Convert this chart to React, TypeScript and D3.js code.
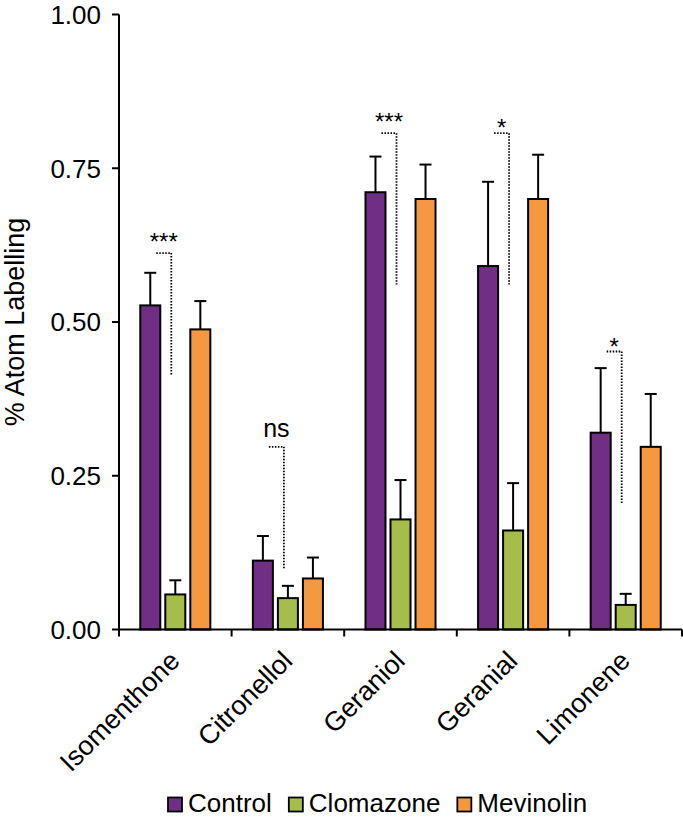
import React, { useEffect, useRef } from 'react';
import * as d3 from 'd3';

const categories = ['Isomenthone', 'Citronellol', 'Geraniol', 'Geranial', 'Limonene'];
const seriesNames = ['Control', 'Clomazone', 'Mevinolin'];
const seriesColors = ['#702F85', '#A6BC4B', '#F4993F'];

const controlMeans = [0.527, 0.112, 0.711, 0.591, 0.320];
const controlErr = [0.053, 0.040, 0.058, 0.137, 0.105];
const clomazoneMeans = [0.057, 0.051, 0.179, 0.161, 0.040];
const clomazoneErr = [0.023, 0.020, 0.064, 0.077, 0.018];
const mevinolinMeans = [0.488, 0.083, 0.700, 0.700, 0.297];
const mevinolinErr = [0.046, 0.034, 0.056, 0.072, 0.086];

// significance (Control vs Clomazone), bracket in y units
const sigLabels = ['***', 'ns', '***', '*', '*'];
const sigTop = [0.612, 0.297, 0.807, 0.807, 0.452];
const sigBottom = [0.414, 0.098, 0.561, 0.561, 0.205];

const yTicks = [0, 0.25, 0.5, 0.75, 1];

const FONT = '"Liberation Sans", Arial, Helvetica, sans-serif';

const App: React.FC = () => {
  const svgRef = useRef<SVGSVGElement>(null);

  useEffect(() => {
    document.body.style.margin = '0';
    if (!svgRef.current) return;

    const W = 683;
    const H = 821;
    const left = 119;
    const right = 682;
    const top = 14.5;
    const bottom = 629.5;

    const svg = d3.select(svgRef.current);
    svg.selectAll('*').remove();
    svg.attr('width', W).attr('height', H);

    const means = [controlMeans, clomazoneMeans, mevinolinMeans];
    const errs = [controlErr, clomazoneErr, mevinolinErr];

    const x = d3.scaleBand().domain(categories).range([left, right]).padding(0);
    const xs = d3.scaleBand()
      .domain(seriesNames)
      .range([0, x.bandwidth()])
      .paddingInner(0.2)
      .paddingOuter(0.85);
    const y = d3.scaleLinear().domain([0, 1]).range([bottom, top]);

    const g = svg.append('g');

    // bars
    seriesNames.forEach((s, si) => {
      const grp = g.append('g');
      grp.selectAll('rect')
        .data(categories)
        .enter()
        .append('rect')
        .attr('x', c => (x(c) || 0) + (xs(s) || 0))
        .attr('width', xs.bandwidth())
        .attr('y', (c, i) => y(means[si][i]))
        .attr('height', (c, i) => bottom - y(means[si][i]))
        .attr('fill', seriesColors[si])
        .attr('stroke', '#000')
        .attr('stroke-width', 2);

      // error bars (upper only)
      categories.forEach((c, i) => {
        const cx = (x(c) || 0) + (xs(s) || 0) + xs.bandwidth() / 2;
        const y0 = y(means[si][i]);
        const y1 = y(means[si][i] + errs[si][i]);
        grp.append('line')
          .attr('x1', cx).attr('x2', cx)
          .attr('y1', y0).attr('y2', y1)
          .attr('stroke', '#000').attr('stroke-width', 2);
        grp.append('line')
          .attr('x1', cx - 6).attr('x2', cx + 6)
          .attr('y1', y1).attr('y2', y1)
          .attr('stroke', '#000').attr('stroke-width', 2);
      });
    });

    // significance brackets
    categories.forEach((c, i) => {
      const vx = (x(c) || 0) + (xs(seriesNames[1]) || 0) + 6;
      const hx = vx - 15;
      const yt = y(sigTop[i]);
      const yb = y(sigBottom[i]);
      g.append('path')
        .attr('d', `M${hx},${yt}H${vx}V${yb}`)
        .attr('fill', 'none')
        .attr('stroke', '#000')
        .attr('stroke-width', 1.8)
        .attr('stroke-dasharray', '1.5,1.5');
      const lab = sigLabels[i];
      const isNs = lab === 'ns';
      const dy = isNs ? -10 : lab.length > 1 ? -3 : 3;
      g.append('text')
        .attr('x', (hx + vx) / 2)
        .attr('y', yt + dy)
        .attr('text-anchor', 'middle')
        .style('font-family', FONT)
        .style('font-size', isNs ? '25px' : '24px')
        .style('fill', '#000')
        .text(lab);
    });

    // y axis
    const ya = svg.append('g');
    ya.append('line')
      .attr('x1', left).attr('x2', left)
      .attr('y1', y(0) + 1).attr('y2', y(1))
      .attr('stroke', '#000').attr('stroke-width', 2);
    yTicks.forEach(t => {
      ya.append('line')
        .attr('x1', left - 7).attr('x2', left)
        .attr('y1', y(t)).attr('y2', y(t))
        .attr('stroke', '#000').attr('stroke-width', 2);
      ya.append('text')
        .attr('x', 101)
        .attr('y', y(t))
        .attr('dy', '0.36em')
        .attr('text-anchor', 'end')
        .style('font-family', FONT)
        .style('font-size', '26px')
        .style('fill', '#000')
        .text(d3.format('.2f')(t));
    });

    svg.append('text')
      .attr('transform', `translate(24,${(y(0) + y(1)) / 2}) rotate(-90)`)
      .attr('text-anchor', 'middle')
      .style('font-family', FONT)
      .style('font-size', '27px')
      .style('fill', '#000')
      .text('% Atom Labelling');

    // x axis
    const xa = svg.append('g');
    xa.append('line')
      .attr('x1', left - 1).attr('x2', right)
      .attr('y1', bottom).attr('y2', bottom)
      .attr('stroke', '#000').attr('stroke-width', 2);
    const bounds = categories.map(c => x(c) || 0).concat([right]);
    bounds.forEach(bx => {
      xa.append('line')
        .attr('x1', bx).attr('x2', bx)
        .attr('y1', bottom).attr('y2', bottom + 7)
        .attr('stroke', '#000').attr('stroke-width', 2);
    });
    categories.forEach(c => {
      const cx = (x(c) || 0) + x.bandwidth() / 2;
      xa.append('text')
        .attr('transform', `translate(${cx + 6},${bottom + 33}) rotate(-45)`)
        .attr('text-anchor', 'end')
        .style('font-family', FONT)
        .style('font-size', '27px')
        .style('fill', '#000')
        .text(c);
    });

    // legend
    const lg = svg.append('g');
    let lx = 168;
    const ly = 812;
    seriesNames.forEach((s, si) => {
      lg.append('rect')
        .attr('x', lx).attr('y', ly - 14.5)
        .attr('width', 14).attr('height', 14)
        .attr('fill', seriesColors[si])
        .attr('stroke', '#000').attr('stroke-width', 1.8);
      const t = lg.append('text')
        .attr('x', lx + 20)
        .attr('y', ly)
        .style('font-family', FONT)
        .style('font-size', '26px')
        .style('fill', '#000')
        .text(s);
      const tw = (t.node() as SVGTextElement).getComputedTextLength();
      lx = lx + 20 + tw + 17;
    });
  }, []);

  return <svg ref={svgRef} style={{ display: 'block' }} />;
};

export default App;
